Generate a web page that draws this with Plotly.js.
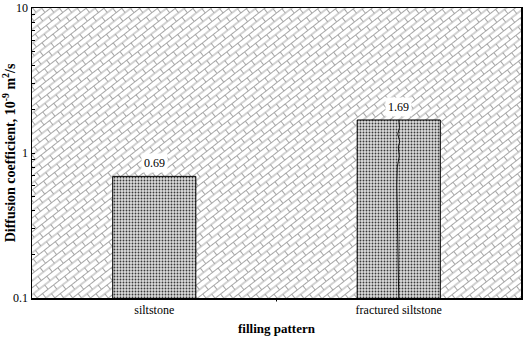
<!DOCTYPE html>
<html>
<head>
<meta charset="utf-8">
<script src="https://cdn.plot.ly/plotly-3.0.1.min.js"></script>
<style>
  html, body { margin: 0; padding: 0; background: #fff; }
  #chart { width: 529px; height: 342px; }
</style>
</head>
<body>
<div id="chart"></div>
<script>
// data
const categories = ["siltstone", "fractured siltstone"];
const values = [0.69, 1.69];
const labels = ["0.69", "1.69"];

// the crack drawn in the fractured bar (offset from bar centre, value)
const crackX = [0, 0.003, -0.004, 0.004, -0.002, 0.002, -0.006, -0.008, -0.006, -0.004, -0.003, 0];
const crackY = [1.69, 1.5, 1.35, 1.2, 1.1, 0.95, 0.8, 0.6, 0.4, 0.25, 0.15, 0.1];

const majorTicks = [0.1, 1, 10];
const minorTicks = [0.2, 0.3, 0.4, 0.5, 0.6, 0.7, 0.8, 0.9, 2, 3, 4, 5, 6, 7, 8, 9];

const xPos = categories.map((c, i) => i);

// diagonal brick background as an svg pattern
const plotW = 489, plotH = 290;
const brickSvg =
  '<svg xmlns="http://www.w3.org/2000/svg" width="' + plotW + '" height="' + plotH + '">' +
  '<defs><pattern id="b" width="14" height="11" patternUnits="userSpaceOnUse" patternTransform="rotate(-38)">' +
  '<path d="M0 0.5H14M0 6H14M0.5 0.5V6M7.5 6V11.5" stroke="#a6a6a6" stroke-width="1" fill="none"/>' +
  '</pattern></defs>' +
  '<rect width="100%" height="100%" fill="#fff"/>' +
  '<rect width="100%" height="100%" fill="url(#b)"/></svg>';
const brickUri = "data:image/svg+xml;charset=utf-8," + encodeURIComponent(brickSvg);

const traces = [
  {
    type: "bar",
    x: xPos,
    y: values,
    width: 0.34,
    marker: {
      color: "#fff",
      line: { color: "#000", width: 1 },
      pattern: { shape: ".", fgcolor: "#3a3a3a", bgcolor: "#dcdcdc", size: 3, solidity: 0.3 }
    },
    hoverinfo: "skip",
    showlegend: false
  },
  {
    type: "scatter",
    mode: "lines",
    x: crackX.map(d => d + 1),
    y: crackY,
    line: { color: "#111", width: 1 },
    hoverinfo: "skip",
    showlegend: false
  }
];

const serif = "Liberation Serif, Times New Roman, serif";

const layout = {
  width: 529,
  height: 342,
  margin: { l: 32, r: 8, t: 8, b: 44 },
  paper_bgcolor: "#fff",
  plot_bgcolor: "rgba(0,0,0,0)",
  font: { family: serif, size: 12, color: "#000" },
  showlegend: false,
  xaxis: {
    range: [-0.5, 1.5],
    tickvals: xPos,
    ticktext: categories,
    ticks: "",
    showgrid: false,
    zeroline: false,
    showline: true,
    linecolor: "#000",
    linewidth: 1.5,
    mirror: true,
    tickfont: { family: serif, size: 12, color: "#000" },
    title: { text: "<b>filling pattern</b>", font: { family: serif, size: 13, color: "#000" }, standoff: 8 }
  },
  yaxis: {
    type: "log",
    range: [-1, 1],
    tickvals: majorTicks,
    ticktext: majorTicks.map(String),
    ticks: "inside",
    ticklen: 3,
    tickcolor: "#000",
    minor: { tickvals: minorTicks, ticks: "inside", ticklen: 3, tickcolor: "#000" },
    showgrid: false,
    zeroline: false,
    showline: true,
    linecolor: "#000",
    linewidth: 1.5,
    mirror: true,
    tickfont: { family: serif, size: 12, color: "#000" },
    title: { text: "<b>Diffusion coefficient, 10<sup>-9</sup> m<sup>2</sup>/s</b>", font: { family: serif, size: 14, color: "#000" }, standoff: 4 }
  },
  images: [{
    source: brickUri,
    xref: "paper", yref: "paper",
    x: 0, y: 1, sizex: 1, sizey: 1,
    xanchor: "left", yanchor: "top",
    sizing: "stretch",
    layer: "below"
  }],
  shapes: [{
    type: "line", xref: "x", yref: "paper",
    x0: 0.5, x1: 0.5, y0: 0, y1: -0.012,
    line: { color: "#000", width: 1 }
  }],
  annotations: values.map((v, i) => ({
    x: xPos[i],
    y: Math.log10(v),
    text: labels[i],
    showarrow: false,
    yanchor: "bottom",
    yshift: 3,
    bgcolor: "#fff",
    borderpad: 2,
    font: { family: serif, size: 12, color: "#000" }
  }))
};

Plotly.newPlot("chart", traces, layout, { staticPlot: true, displayModeBar: false });
</script>
</body>
</html>
